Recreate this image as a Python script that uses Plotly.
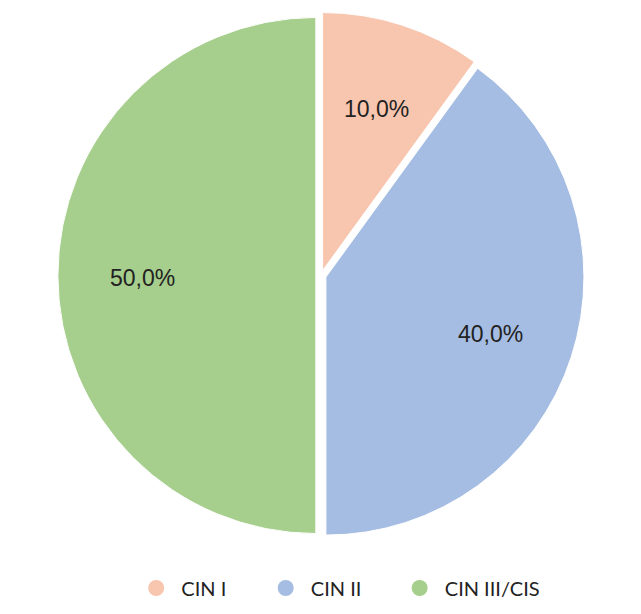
import math
import plotly.graph_objects as go

# data
labels = ['CIN I', 'CIN II', 'CIN III/CIS']
values = [10.0, 40.0, 50.0]
colors = ['#F8C6AE', '#A5BDE3', '#A6CE8C']

W, H = 641, 614
pull = 0.02
dom_x = [0.0777, 0.8989]
dom_y = [0.1357, 0.993]

fig = go.Figure()

fig.add_trace(go.Pie(labels=labels, values=values, sort=False, direction='clockwise', rotation=0,
                     marker=dict(colors=colors, line=dict(color='white', width=1)),
                     pull=[pull] * len(values), textinfo='none',
                     domain=dict(x=dom_x, y=dom_y),
                     showlegend=False, hoverinfo='label+percent'))

# percentage labels placed along each slice's bisector
cx = (dom_x[0] + dom_x[1]) / 2 * W
cy = (dom_y[0] + dom_y[1]) / 2 * H
half = min((dom_x[1] - dom_x[0]) * W, (dom_y[1] - dom_y[0]) * H) / 2
r = half / (1 + pull)
total = sum(values)
start = 0.0
for v in values:
    mid = (start + v / 2) / total * 2 * math.pi
    start += v
    rl = r * (0.67 + pull)
    fig.add_annotation(x=(cx + rl * math.sin(mid)) / W, y=(cy + rl * math.cos(mid)) / H,
                       xref='paper', yref='paper', xanchor='center', yanchor='middle', yshift=-3,
                       showarrow=False, text=f'{v / total * 100:.1f}%'.replace('.', ','),
                       font=dict(size=23, color='#222222', family='Liberation Sans'))

# legend entries drawn as round markers, one legend each so they can be spaced out
leg_x = [0.200, 0.402, 0.611]
leg_font = dict(size=20, color='#222222', family='Lato')
legends = {}
for i, (name, col) in enumerate(zip(labels, colors)):
    key = 'legend' if i == 0 else f'legend{i + 1}'
    fig.add_trace(go.Scatter(x=[None], y=[None], mode='markers', name='\u00a0' + name,
                             legend=key, marker=dict(symbol='circle', size=18, color=col)))
    legends[key] = dict(orientation='h', x=leg_x[i], xanchor='left', y=0.0554, yanchor='middle',
                        itemsizing='trace', font=leg_font, bgcolor='rgba(0,0,0,0)')

fig.update_layout(width=W, height=H, margin=dict(l=0, r=0, t=0, b=0),
                  paper_bgcolor='white', plot_bgcolor='white',
                  xaxis=dict(visible=False), yaxis=dict(visible=False), **legends)

fig.write_html('out.html')
